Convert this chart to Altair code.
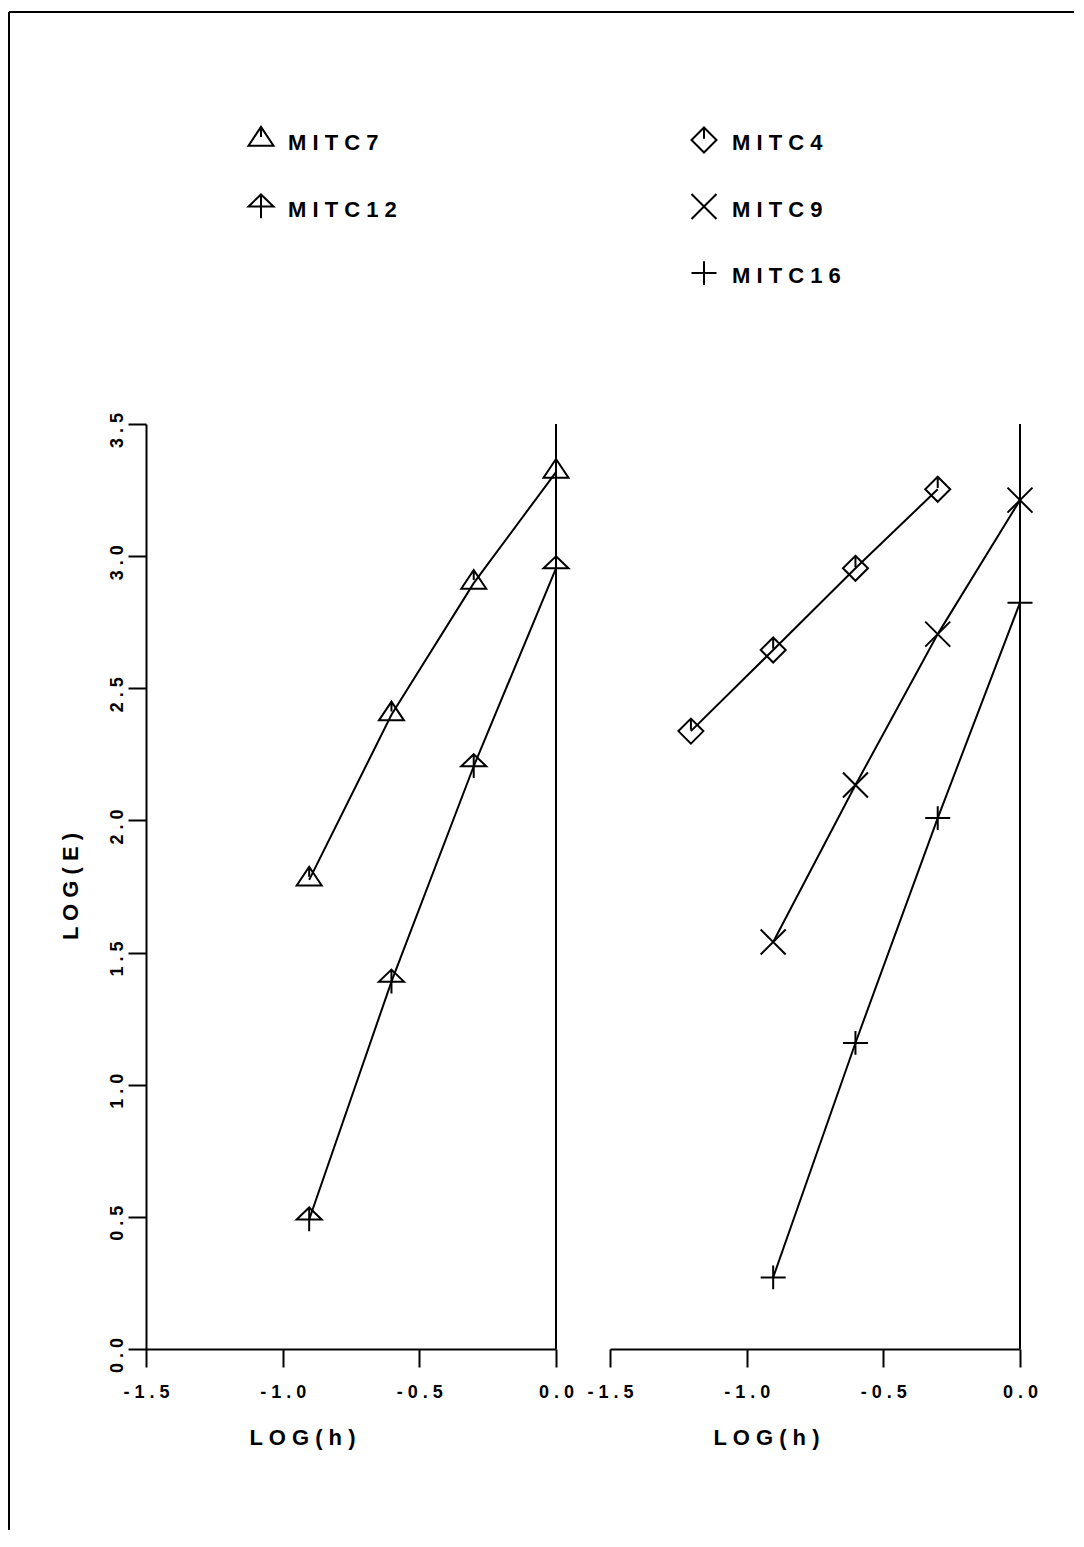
import altair as alt
import pandas as pd

# ---- data ----
mitc7_x = [-0.903, -0.602, -0.301, 0.0]
mitc7_y = [1.775, 2.40, 2.898, 3.318]
mitc12_x = [-0.903, -0.602, -0.301, 0.0]
mitc12_y = [0.49, 1.39, 2.205, 2.954]

mitc4_x = [-1.204, -0.903, -0.602, -0.301]
mitc4_y = [2.338, 2.645, 2.954, 3.253]
mitc9_x = [-0.903, -0.602, -0.301, 0.0]
mitc9_y = [1.540, 2.134, 2.705, 3.212]
mitc16_x = [-0.903, -0.602, -0.301, 0.0]
mitc16_y = [0.271, 1.158, 2.009, 2.824]

x_ticks = [-1.5, -1.0, -0.5, 0.0]
y_ticks = [0.0, 0.5, 1.0, 1.5, 2.0, 2.5, 3.0, 3.5]

left_names = ["MITC7", "MITC12"]
right_names = ["MITC4", "MITC9", "MITC16"]
all_names = left_names + right_names

SHAPES = {
    "MITC7": "M0,-1.05L1,0.45L-1,0.45Z M0,-1.05L0,-0.25",
    "MITC12": "M0,-0.96L1,0L-1,0Z M0,-0.96L0,0.94",
    "MITC4": "M0,-1L1,0L0,1L-1,0Z M0,-1L0,-0.1",
    "MITC9": "M-1,-1L1,1M1,-1L-1,1",
    "MITC16": "M-1,0L1,0M0,-0.95L0,0.95",
}
SHAPE_SCALE = alt.Scale(domain=all_names, range=[SHAPES[n] for n in all_names])

FONT = "Liberation Sans"


def series_df(pairs):
    rows = []
    for name, xs, ys in pairs:
        for xv, yv in zip(xs, ys):
            rows.append({"series": name, "x": xv, "y": yv})
    return pd.DataFrame(rows)


left_df = series_df([("MITC7", mitc7_x, mitc7_y), ("MITC12", mitc12_x, mitc12_y)])
right_df = series_df([("MITC4", mitc4_x, mitc4_y), ("MITC9", mitc9_x, mitc9_y),
                      ("MITC16", mitc16_x, mitc16_y)])

LABEL_EXPR = ("(datum.value < 0 ? '- ' : '') + "
              "join(split(format(abs(datum.value), '.1f'), ''), ' ')")

PW, PH = 410, 925


def x_axis():
    return alt.Axis(values=x_ticks, labelExpr=LABEL_EXPR, title="L O G ( h )",
                    tickSize=18, tickWidth=2, tickColor="black",
                    domainWidth=2, domainColor="black", grid=False,
                    labelFont=FONT, labelFontWeight="bold", labelFontSize=18,
                    labelColor="black", labelPadding=16, labelFlush=False,
                    labelOverlap=False, labelBound=False,
                    titleFont=FONT, titleFontWeight="bold", titleFontSize=22,
                    titleColor="black", titleX=156, titleY=88,
                    titleAlign="center", titleBaseline="middle")


def y_axis():
    return alt.Axis(values=y_ticks, labelExpr=LABEL_EXPR, title="L O G ( E )",
                    tickSize=18, tickWidth=2, tickColor="black",
                    domainWidth=2, domainColor="black", grid=False,
                    labelFont=FONT, labelFontWeight="bold", labelFontSize=18,
                    labelColor="black", labelPadding=6, labelAngle=270,
                    labelAlign="center", labelBaseline="alphabetic",
                    labelOffset=6,
                    labelFlush=False, labelOverlap=False, labelBound=False,
                    titleFont=FONT, titleFontWeight="bold", titleFontSize=22,
                    titleColor="black", titleAngle=270, titleX=-76, titleY=462,
                    titleAlign="center", titleBaseline="middle")


def panel(df, show_y, extra=None):
    xenc = alt.X("x:Q", scale=alt.Scale(domain=[-1.5, 0], nice=False, zero=False),
                 axis=x_axis())
    yenc = alt.Y("y:Q", scale=alt.Scale(domain=[0, 3.5], nice=False, zero=False),
                 axis=y_axis() if show_y else None)
    base = alt.Chart(df)
    lines = base.mark_line(color="black", strokeWidth=2).encode(
        x=xenc, y=yenc, detail="series:N")
    pts = base.mark_point(filled=False, color="black", strokeWidth=2, size=625,
                          opacity=1).encode(
        x=xenc, y=yenc,
        shape=alt.Shape("series:N", scale=SHAPE_SCALE, legend=None))
    vline = alt.Chart(pd.DataFrame({"x": [0.0]})).mark_rule(
        color="black", strokeWidth=2).encode(x=alt.X("x:Q"))
    layers = [vline, lines, pts]
    if extra:
        layers += extra
    return alt.layer(*layers).properties(width=PW, height=PH)


def legend(names, sym_x, txt_x):
    df = pd.DataFrame({"series": names, "label": [" ".join(n) for n in names]})
    top = 19
    step = 66.5
    yenc = alt.Y("series:N",
                 scale=alt.Scale(domain=names,
                                 range=[top, top + step * (len(names) - 1)],
                                 padding=0),
                 axis=None)
    base = alt.Chart(df)
    sym = base.mark_point(filled=False, color="black", strokeWidth=2, size=625,
                          opacity=1, yOffset=-3).encode(
        x=alt.value(sym_x), y=yenc,
        shape=alt.Shape("series:N", scale=SHAPE_SCALE, legend=None))
    txt = base.mark_text(align="left", baseline="middle", font=FONT,
                         fontWeight="bold", fontSize=22, color="black").encode(
        x=alt.value(txt_x), y=yenc, text="label:N")
    return alt.layer(sym, txt).properties(width=PW, height=300)


# page frame (outer border of the figure)
frame_df = pd.DataFrame({"a": [0]})
frame_left = alt.Chart(frame_df).mark_rule(color="black", strokeWidth=2).encode(
    x=alt.value(-137), y=alt.value(-412), y2=alt.value(1106))
frame_top = alt.Chart(frame_df).mark_rule(color="black", strokeWidth=2).encode(
    x=alt.value(-137), x2=alt.value(928), y=alt.value(-412))

left_panel = panel(left_df, True, extra=[frame_left, frame_top])
right_panel = panel(right_df, False)

chart = alt.concat(
    legend(left_names, 115, 142), legend(right_names, 94, 122),
    left_panel, right_panel,
    columns=2, spacing={"row": 0, "column": 54}, bounds="flush",
).properties(
    padding={"left": 0, "top": 3, "right": 0, "bottom": 0},
    background="white",
).resolve_scale(y="independent").configure_view(stroke=None)

chart.save("out.html", embed_options={"renderer": "svg", "actions": False})
